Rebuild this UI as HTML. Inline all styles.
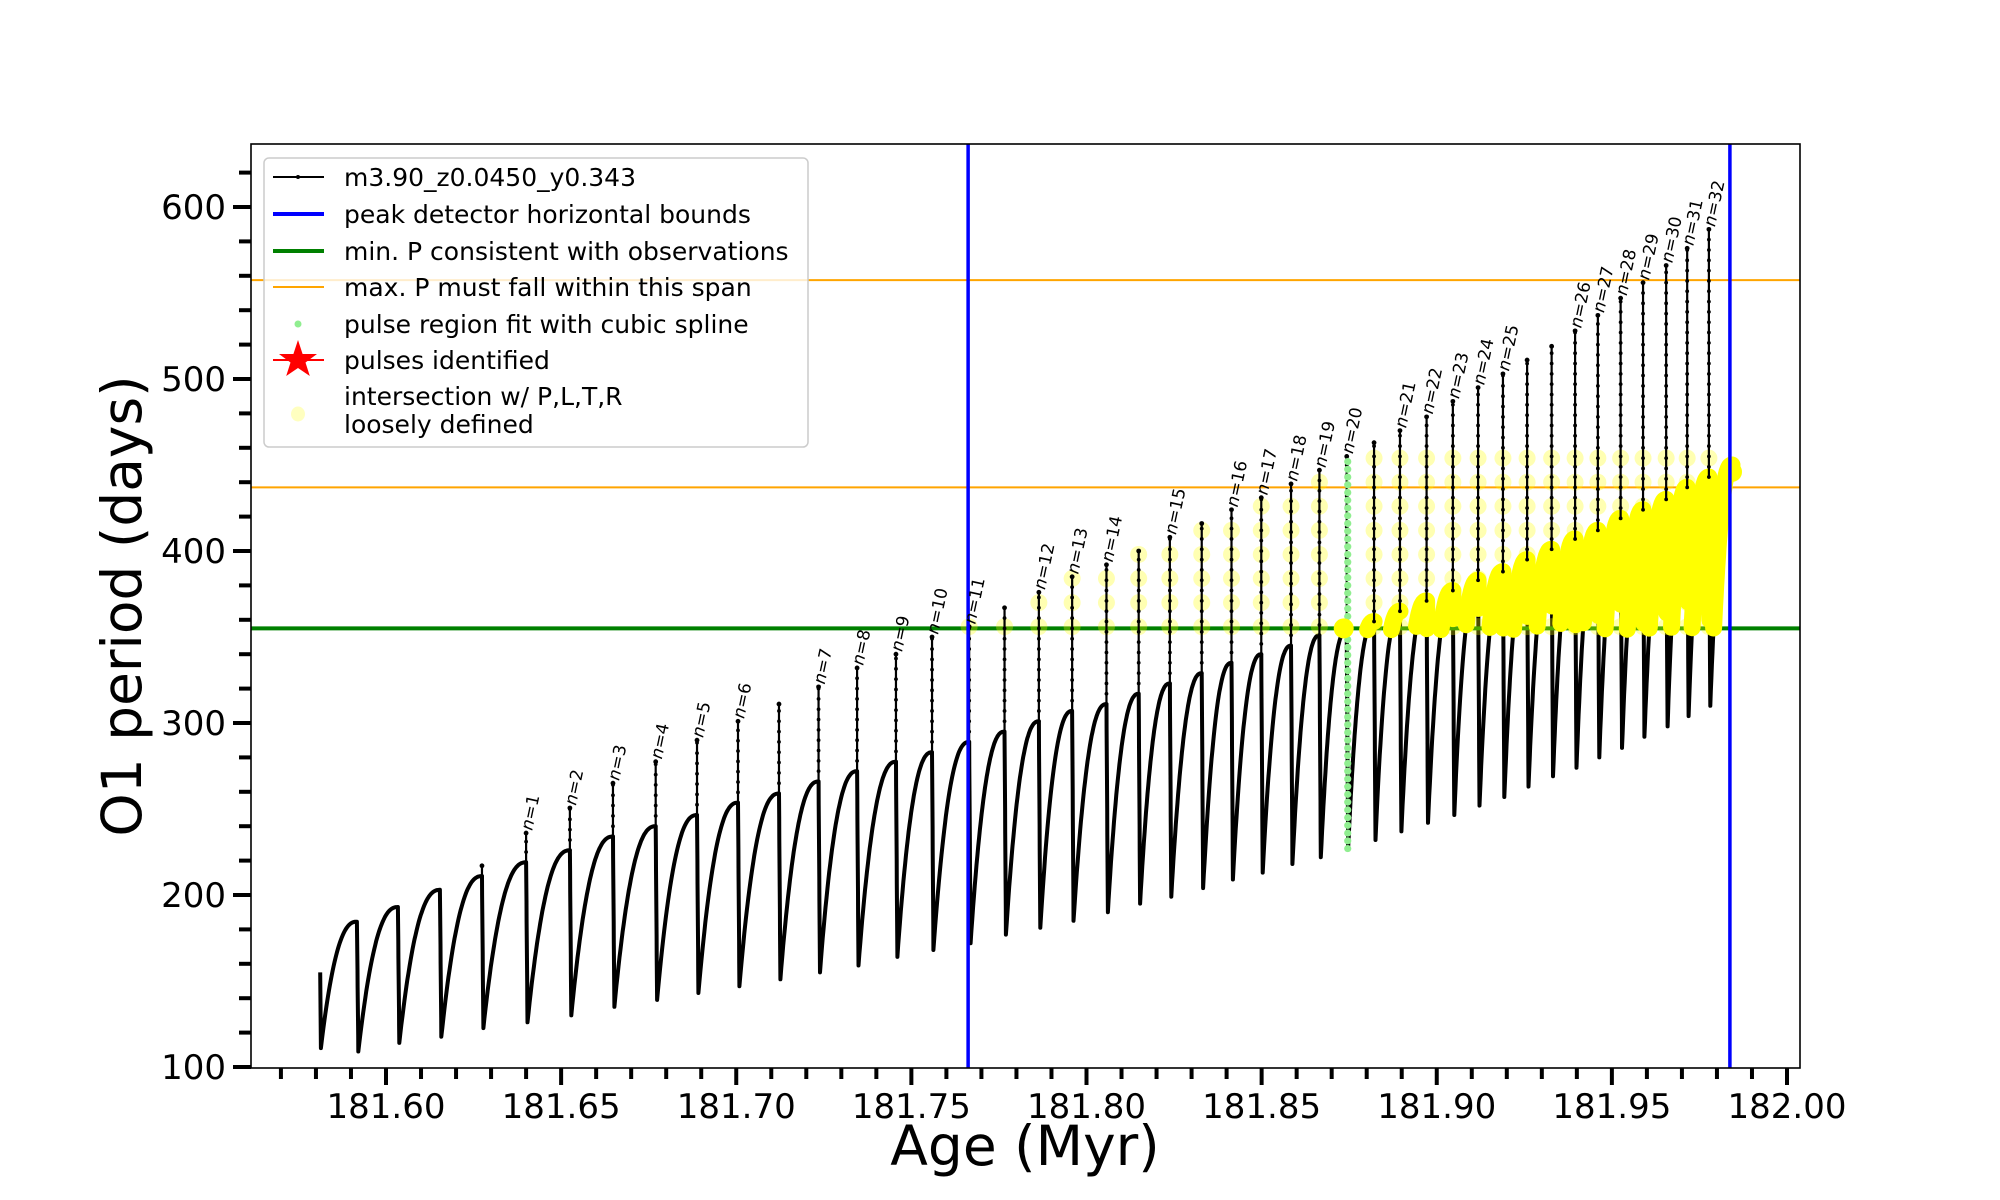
<!DOCTYPE html>
<html><head><meta charset="utf-8"><style>
html,body{margin:0;padding:0;background:#fff;}
svg{display:block;font-family:"DejaVu Sans","Liberation Sans",sans-serif;}
</style></head><body>
<svg id="chart" width="2000" height="1200" viewBox="0 0 2000 1200">
<defs><clipPath id="plotclip"><rect x="251" y="144" width="1549" height="924"/></clipPath></defs>
<rect x="0" y="0" width="2000" height="1200" fill="#fff"/>
<g id="plot" clip-path="url(#plotclip)"></g>
<rect x="251" y="144" width="1549" height="924" fill="none" stroke="#000" stroke-width="1.6"/>
<g id="axes"></g>
<text x="1025" y="1165" font-size="55" text-anchor="middle">Age (Myr)</text>
<text transform="translate(141,606) rotate(-90)" font-size="55" text-anchor="middle">O1 period (days)</text>
<g id="legend">
  <rect x="264" y="158" width="544" height="289" rx="5" fill="#fff" fill-opacity="0.8" stroke="#ccc" stroke-width="1.5"/>
  <g>
    <line x1="273" y1="177" x2="324" y2="177" stroke="#000" stroke-width="2"/><circle cx="298" cy="177" r="2" fill="#000"/>
    <text x="344" y="186" font-size="25">m3.90_z0.0450_y0.343</text></g>
  <g>
    <line x1="273" y1="214" x2="324" y2="214" stroke="#00f" stroke-width="4"/>
    <text x="344" y="223" font-size="25">peak detector horizontal bounds</text></g>
  <g>
    <line x1="273" y1="251" x2="324" y2="251" stroke="#008000" stroke-width="4"/>
    <text x="344" y="260" font-size="25">min. P consistent with observations</text></g>
  <g>
    <line x1="273" y1="287" x2="324" y2="287" stroke="#FFA500" stroke-width="2"/>
    <text x="344" y="296" font-size="25">max. P must fall within this span</text></g>
  <g>
    <circle cx="298" cy="324" r="3.5" fill="#90EE90"/>
    <text x="344" y="333" font-size="25">pulse region fit with cubic spline</text></g>
  <g>
    <line x1="273" y1="360" x2="324" y2="360" stroke="#f00" stroke-width="2"/>
    <polygon points="298,340 302.6,354 317,354 305.5,362.5 309.8,376 298,368 286.2,376 290.5,362.5 279,354 293.4,354" fill="#f00"/>
    <text x="344" y="369" font-size="25">pulses identified</text></g>
  <g>
    <ellipse cx="298" cy="414" rx="7" ry="7.5" fill="#ffffc0"/>
    <text x="344" y="405" font-size="25">intersection w/ P,L,T,R</text>
    <text x="344" y="433" font-size="25">loosely defined</text></g>
</g>
</svg>
<script>
// ---- data ----
const pulseAge = [181.5917,181.6034,181.6154,181.6274,181.6400,181.6525,181.6648,181.6770,181.6888,181.7005,
 181.7122,181.7235,181.7345,181.7456,181.7559,181.7665,181.7766,181.7864,181.7959,181.8057,
 181.8149,181.8238,181.8329,181.8414,181.8499,181.8584,181.8665,181.8743,181.8821,181.8895,
 181.8971,181.9046,181.9118,181.9189,181.9258,181.9328,181.9395,181.9460,181.9525,181.9589,
 181.9655,181.9715,181.9777];
const preTop = [184.5,193,203,211,219,226,234,240,246.5,253.7,259,266,272,277.5,283,289,295,301,307,311,
 317,323,329,335,340,345,351,354,359,365,371,377,383,388,395,401,407,412,419,424,430,437,443];
const spikePeak = [184.5,193,203,217,236,250.6,265,277.5,290,301,311,321,332,340,350,356,367,376,385,392,
 400,408,416,424,431,439,447,455,463,470,478,487,495,503,511,519,528,537,547,556,566,576,587];
const postMin = [109,114,117.6,122.6,126,130,135,139,143,147,151,155,159,164,168,172,177,181,185,190,
 195,199,204,209,213,218,222,227,232,237,242,246.5,252,257,263,269,274,280,285.5,292,298,304,310];
const pulseLabel = [null,null,null,null,1,2,3,4,5,6,null,7,8,9,10,11,null,12,13,14,null,15,null,16,17,18,19,20,
 null,21,22,23,24,25,null,null,26,27,28,29,30,31,32];
const startAge = 181.5812, startP = 155, startMin = 111;
const endAge = 181.9843, endTop = 450;
const boundAges = [181.7662, 181.9837];
const minP = [355];
const maxPSpan = [437, 557.5];
const splinePulseIndex = 27;
const xTicksMajor = ["181.60","181.65","181.70","181.75","181.80","181.85","181.90","181.95","182.00"];
const yTicksMajor = ["100","200","300","400","500","600"];

// ---- axes functions ----
const X = a => 386 + (a - 181.60) * 3502.5;
const Y = p => 1067 - (p - 100) * 1.72;
const NS = "http://www.w3.org/2000/svg";
const plot = document.getElementById('plot');
const axes = document.getElementById('axes');
function mk(tag, attrs, parent){ const e = document.createElementNS(NS, tag); for (const k in attrs) e.setAttribute(k, attrs[k]); parent.appendChild(e); return e; }

const g1 = mk('g', {}, plot);


maxPSpan.forEach(v => {
  const l = mk('line', {x1:251, x2:1800, y1:Y(v), y2:Y(v), stroke:'#FFA500', 'stroke-width':2}, g1);
  
  
});

// ---- build curve points ----
const pts = [];
pts.push([startAge, startP]);
function arc(a0, p0, a1, p1){
  const N = 40;
  for (let k = 0; k <= N; k++){ const s = k / N; const f = 1 - Math.pow(1 - s, 2.4); pts.push([a0 + (a1 - a0) * s, p0 + (p1 - p0) * f]); }
}
arc(startAge + 0.0002, startMin, pulseAge[0], preTop[0]);
for (let i = 0; i < pulseAge.length; i++){
  const a = pulseAge[i];
  const a2 = a + 0.0004;
  for (let k = 1; k <= 8; k++) pts.push([a + 0.0004 * k / 8, preTop[i] + (postMin[i] - preTop[i]) * k / 8]);
  const na = i + 1 < pulseAge.length ? pulseAge[i + 1] : endAge;
  const np = i + 1 < pulseAge.length ? preTop[i + 1] : endTop;
  arc(a2, postMin[i], na, np);
}
const toXY = p => X(p[0]).toFixed(1) + ',' + Y(p[1]).toFixed(1);
const curve = mk('polyline', {points: pts.map(toXY).join(' '), fill:'none', stroke:'#000', 'stroke-width':4, 'stroke-linejoin':'round'}, plot);



minP.forEach(v => {
  const l = mk('line', {x1:251, x2:1800, y1:Y(v), y2:Y(v), stroke:'#008000', 'stroke-width':4}, plot);
  
  
});

// yellow intersection region
const yg = mk('g', {}, plot);


let seg = [];
function flush(){ if (seg.length > 1){ const pl = mk('polyline', {points: seg.map(toXY).join(' '), fill:'none', stroke:'#ffff00', 'stroke-width':17, 'stroke-linejoin':'round', 'stroke-linecap':'round'}, yg);
  
   } seg = []; }
pts.forEach(p => { if (p[1] >= minP[0] - 1 && p[0] >= boundAges[0] && p[0] <= boundAges[1] + 0.001) seg.push(p); else flush(); });
flush();
const endBlob = mk('circle', {cx:X(endAge), cy:Y(endTop - 4), r:10, fill:'#ffff00'}, yg);



// pale yellow circles on spikes & black spikes
const sg = mk('g', {}, plot);


for (let i = 0; i < pulseAge.length; i++){
  const a = pulseAge[i];
  if (a >= boundAges[0] - 0.0005 && i !== splinePulseIndex){
    const cap = Math.min(spikePeak[i], 455);
    for (let v = minP[0] + 1; v <= cap + 0.5; v += 14){
      const c = mk('circle', {cx:X(a), cy:Y(v), r:8.5, fill:'#ffff00', 'fill-opacity':0.3}, sg);
      
      
    }
  }
  if (spikePeak[i] > preTop[i] + 1){
    const l = mk('line', {x1:X(a), x2:X(a), y1:Y(preTop[i]), y2:Y(spikePeak[i]), stroke:'#000', 'stroke-width':2.2}, sg);
    
    
    for (let v = preTop[i]; v <= spikePeak[i]; v += 6){
      const d = mk('circle', {cx:X(a), cy:Y(v), r:1.9, fill:'#000'}, sg);
      
      
    }
    const tp = mk('circle', {cx:X(a), cy:Y(spikePeak[i]), r:2.4, fill:'#000'}, sg);
    
    
  }
}
{
  const i = splinePulseIndex;
  const gg = mk('g', {}, plot);
  
  
  for (let v = postMin[i]; v <= spikePeak[i]; v += 4.5){
    const c = mk('circle', {cx:X(pulseAge[i]) + 1, cy:Y(v), r:3.6, fill:'#90EE90'}, gg);
    
    
  }
  const blob = mk('circle', {cx:X(pulseAge[i]) - 3, cy:Y(minP[0]), r:10, fill:'#ffff00'}, gg);
  
  
}
boundAges.forEach(a => {
  const l = mk('line', {x1:X(a), x2:X(a), y1:144, y2:1068, stroke:'#0000ff', 'stroke-width':3.5}, plot);
  
  
});
for (let i = 0; i < pulseAge.length; i++){
  if (pulseLabel[i] === null) continue;
  const x = X(pulseAge[i]) + 6, y = Y(spikePeak[i]) - 2;
  const t = mk('text', {transform:`translate(${x.toFixed(1)},${y.toFixed(1)}) rotate(-78)`, 'font-size':17, fill:'#000'}, plot);
  
  
  const ts = mk('tspan', {'font-style':'italic'}, t); ts.textContent = 'n';
  const ts2 = mk('tspan', {}, t); ts2.textContent = '=' + pulseLabel[i];
}

// ---- ticks ----
for (let k = 57; k <= 100; k++){
  const a = 181 + k / 100;
  const major = k % 5 === 0;
  const l = mk('line', {x1:X(a), x2:X(a), y1:1068, y2:1068 + (major ? 17 : 11), stroke:'#000', 'stroke-width':4}, axes);
  
  
}
xTicksMajor.forEach(s => {
  const t = mk('text', {x:X(parseFloat(s)), y:1118, 'font-size':34, 'text-anchor':'middle'}, axes);
  t.textContent = s;
  
  
});
for (let v = 100; v <= 620; v += 20){
  const major = v % 100 === 0;
  const l = mk('line', {x1:251 - (major ? 18 : 12), x2:251, y1:Y(v), y2:Y(v), stroke:'#000', 'stroke-width':4}, axes);
  
  
}
yTicksMajor.forEach(s => {
  const t = mk('text', {x:226, y:Y(parseFloat(s)) + 12, 'font-size':34, 'text-anchor':'end'}, axes);
  t.textContent = s;
  
  
});
</script>
</body></html>
